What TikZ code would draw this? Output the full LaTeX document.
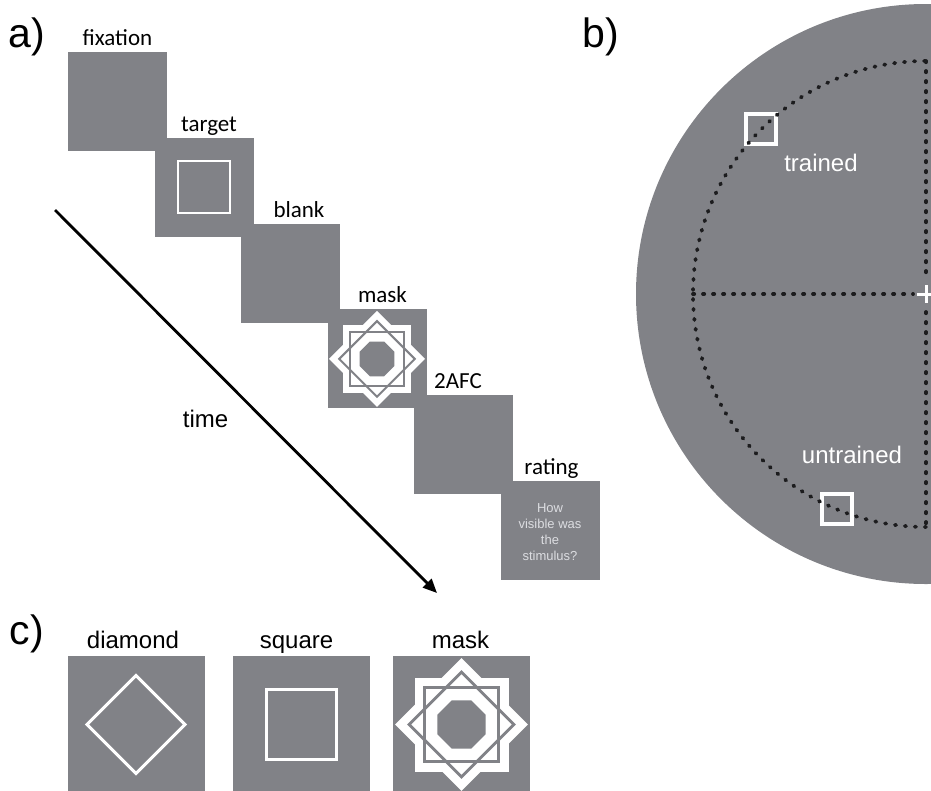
\documentclass[tikz,border=0pt]{standalone}
\usepackage{fontspec}
\setmainfont{Liberation Sans}
\newfontfamily\calibrifont{Carlito}
\usetikzlibrary{arrows.meta}

% mask stimulus: white star, grey square and diamond, grey octagon
\newcommand{\maskfigure}[3]{%
\begin{scope}[shift={(#1,#2)}, scale=#3]
\fill[white] (-47,-47) rectangle (47,47);
\fill[white, rotate=45] (-47,-47) rectangle (47,47);
\draw[boxgray, line width=2.8pt*#3] (-37,-37) rectangle (37,37);
\draw[boxgray, line width=2.8pt*#3, rotate=45] (-37,-37) rectangle (37,37);
\fill[boxgray] (22.5:26) -- (67.5:26) -- (112.5:26) -- (157.5:26)
  -- (202.5:26) -- (247.5:26) -- (292.5:26) -- (337.5:26) -- cycle;
\end{scope}
}

\begin{document}
\begin{tikzpicture}[
    x=1pt, y=-1pt,
    line join=miter,
    trialbox/.style={fill=boxgray, minimum size=99pt, inner sep=0pt, outer sep=0pt},
    shapebox/.style={fill=boxgray, minimum size=137pt, inner sep=0pt, outer sep=0pt},
    steplabel/.style={font=\calibrifont\fontsize{23}{27}\selectfont, anchor=base, inner sep=0pt},
    sanslabel/.style={font=\fontsize{24}{28}\selectfont, anchor=base, inner sep=0pt},
    panellabel/.style={font=\fontsize{41}{46}\selectfont, anchor=base, inner sep=0pt},
    dotline/.style={draw=dotblack, line width=3.8pt, line cap=round, dash pattern=on 1.2pt off 8.8pt},
    locmarker/.style={draw=white, line width=4pt, minimum size=30pt, inner sep=0pt}
]

% Colors
\definecolor{boxgray}{RGB}{129,130,135}
\definecolor{dotblack}{RGB}{28,28,30}
\definecolor{ratinggray}{RGB}{220,221,225}

\useasboundingbox (0,0) rectangle (931,790);
\clip (0,0) rectangle (931,790);

% ----------------------------------------------------
% a) trial sequence
% ----------------------------------------------------
\node[panellabel] (alabel) at (27,47) {a)};

\node[trialbox] (fixation) at (117.5,101.5) {};
\node[steplabel] (fixationlabel) at (117.5,45) {fixation};

\node[trialbox] (target) at (204,187.3) {};
\node[steplabel] (targetlabel) at (209,131.3) {target};
\draw[white, line width=2pt] (178,161.3) rectangle (230,213.3);

\node[trialbox] (blank) at (290.5,273.1) {};
\node[steplabel] (blanklabel) at (299,217.1) {blank};

\node[trialbox] (mask) at (377,358.9) {};
\node[steplabel] (masklabel) at (382.5,302.9) {mask};
\maskfigure{377}{358.9}{0.7226}

\node[trialbox] (afc) at (463.5,444.7) {};
\node[steplabel] (afclabel) at (458,388.7) {2AFC};

\node[trialbox] (rating) at (550,530.5) {};
\node[steplabel] (ratinglabel) at (551.5,474.5) {rating};
\node[align=center, text=ratinggray, font=\fontsize{13}{16}\selectfont] (ratingq) at (550,532) {How\\visible was\\the\\stimulus?};

% time arrow
\coordinate (timestart) at (55,210);
\coordinate (timeend) at (437,593);
\draw[line width=2.8pt, -{Triangle[length=14pt, width=12pt]}] (timestart) -- (timeend);
\node[sanslabel] (timelabel) at (205.5,427) {time};

% ----------------------------------------------------
% b) visual field
% ----------------------------------------------------
\node[panellabel] (blabel) at (601,47) {b)};
\fill[boxgray] (926,294) circle[radius=290];

\node[locmarker] (trained) at (761,129) {};
\node[locmarker] (untrained) at (836.8,509.3) {};

\draw[dotline] (926,527) arc[start angle=90, end angle=270, radius=233];
\draw[dotline] (693,294) -- (913,294);
\draw[dotline] (926,61) -- (926,276);
\draw[dotline] (926,312) -- (926,527);

\draw[white, line width=3pt] (917,294) -- (935,294);
\draw[white, line width=3pt] (926,285) -- (926,303);

\node[sanslabel, text=white] (trainedlabel) at (821,171.5) {trained};
\node[sanslabel, text=white] (untrainedlabel) at (852,463) {untrained};

% ----------------------------------------------------
% c) stimuli
% ----------------------------------------------------
\node[panellabel] (clabel) at (27,644) {c)};

\node[shapebox] (diamond) at (136,724.5) {};
\node[sanslabel] (diamondlabel) at (133,648) {diamond};
\draw[white, line width=3pt] (136,675.5) -- (185,724.5) -- (136,773.5) -- (87,724.5) -- cycle;

\node[shapebox] (square) at (301,724.5) {};
\node[sanslabel] (squarelabel) at (296.5,648) {square};
\draw[white, line width=3pt] (266,689.5) rectangle (336,759.5);

\node[shapebox] (maskc) at (461.5,724.5) {};
\node[sanslabel] (maskclabel) at (460.5,648) {mask};
\maskfigure{461.5}{724.5}{1}

\end{tikzpicture}
\end{document}
